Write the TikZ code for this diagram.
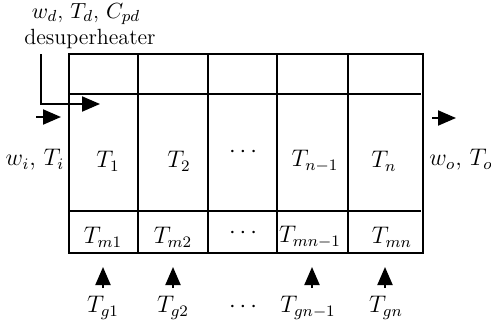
\documentclass[tikz,border=0pt]{standalone}
\usetikzlibrary{arrows.meta}
\begin{document}
\begin{tikzpicture}[x=0.5pt,y=-0.5pt,
  grid/.style={line width=0.75pt},
  flow/.style={line width=1pt,-{Triangle[length=9pt,width=7.5pt]}},
  lbl/.style={inner sep=0pt,font=\large},
  toplbl/.style={inner sep=0pt,font=\fontsize{11}{13}\selectfont}]
\useasboundingbox (0,0) rectangle (491,322);
% grid
\draw[grid] (69,54) rectangle (423,253);
\foreach \x in {138,208,277,348}{\draw[grid] (\x,54) -- (\x,253);}
\draw[grid] (69,94) -- (421,94);
\draw[grid] (69,211) -- (421,211);
% top labels
\node[toplbl] (wd) at (86,14) {$w_d$, $T_d$, $C_{pd}$};
\node[toplbl] (desup) at (90,39) {desuperheater};
% desuperheater arrow
\coordinate (ds0) at (41,54);
\coordinate (ds1) at (41,104);
\coordinate (ds2) at (100,104);
\draw[flow] (ds0) -- (ds1) -- (ds2);
% inlet
\coordinate (in0) at (36,117);
\coordinate (in1) at (61,117);
\draw[flow] (in0) -- (in1);
\node[lbl] (wi) at (35,160) {$w_i$, $T_i$};
% outlet
\coordinate (out0) at (432,118);
\coordinate (out1) at (456,118);
\draw[flow] (out0) -- (out1);
\node[lbl] (wo) at (461,160) {$w_o$, $T_o$};
% gas temps
\node[lbl] (T1) at (108,161) {$T_1$};
\node[lbl] (T2) at (179,161) {$T_2$};
\node[lbl] (Td) at (243,152) {$\cdots$};
\node[lbl] (Tn1) at (315,161) {$T_{n-1}$};
\node[lbl] (Tn) at (384,161) {$T_n$};
% metal temps
\node[lbl] (Tm1) at (103,237) {$T_{m1}$};
\node[lbl] (Tm2) at (173,237) {$T_{m2}$};
\node[lbl] (Tmd) at (243,233) {$\cdots$};
\node[lbl] (Tmn1) at (310,237) {$T_{mn-1}$};
\node[lbl] (Tmn) at (392,237) {$T_{mn}$};
% gas temps below
\node[lbl] (Tg1) at (103,308) {$T_{g1}$};
\node[lbl] (Tg2) at (173,308) {$T_{g2}$};
\node[lbl] (Tgd) at (243,307) {$\cdots$};
\node[lbl] (Tgn1) at (308,308) {$T_{gn-1}$};
\node[lbl] (Tgn) at (386,308) {$T_{gn}$};
% up arrows
\foreach \n/\x in {a/103,b/173,c/312,d/385}{
  \coordinate (u\n0) at (\x,288);
  \coordinate (u\n1) at (\x,267);
  \draw[flow] (u\n0) -- (u\n1);
}
\end{tikzpicture}
\end{document}
